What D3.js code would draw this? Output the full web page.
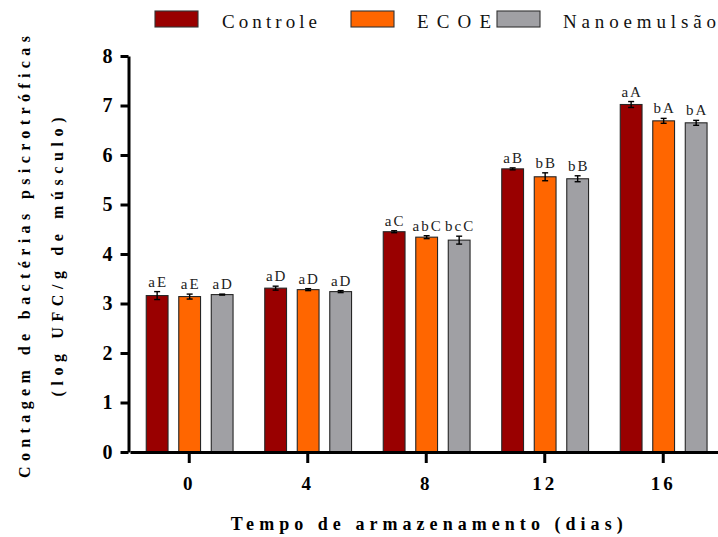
<!DOCTYPE html>
<html>
<head>
<meta charset="utf-8">
<script src="https://cdn.jsdelivr.net/npm/d3@7"></script>
<style>
  html, body { margin: 0; padding: 0; background: #fff; }
  svg { display: block; }
  svg text { font-family: "Times New Roman", "Liberation Serif", Tinos, "DejaVu Serif", serif; }
</style>
</head>
<body>
<svg id="chart" width="718" height="537"></svg>
<script>
// ---- data ----
const days = ["0", "4", "8", "12", "16"];
const seriesNames = ["Controle", "ECOE", "Nanoemulsão"];
const controle = [3.16, 3.31, 4.45, 5.72, 7.02];
const ecoe = [3.14, 3.28, 4.34, 5.56, 6.69];
const nano = [3.18, 3.24, 4.28, 5.52, 6.65];
const controleErr = [0.08, 0.04, 0.02, 0.02, 0.06];
const ecoeErr = [0.05, 0.02, 0.03, 0.08, 0.05];
const nanoErr = [0.01, 0.02, 0.08, 0.06, 0.05];
const controleLbl = ["aE", "aD", "aC", "aB", "aA"];
const ecoeLbl = ["aE", "aD", "abC", "bB", "bA"];
const nanoLbl = ["aD", "aD", "bcC", "bB", "bA"];
const yTicks = [0, 1, 2, 3, 4, 5, 6, 7, 8];

const colors = ["#990000", "#FF6600", "#A0A0A4"];
const values = [controle, ecoe, nano];
const errs = [controleErr, ecoeErr, nanoErr];
const lbls = [controleLbl, ecoeLbl, nanoLbl];

const rows = [];
days.forEach((d, i) => {
  seriesNames.forEach((s, j) => {
    rows.push({ day: d, series: s, j: j, v: values[j][i], e: errs[j][i], lbl: lbls[j][i] });
  });
});

const svg = d3.select("#chart");
const serif = '"Times New Roman", "Liberation Serif", Tinos, "DejaVu Serif", serif';

const x = d3.scaleBand().domain(days).range([130, 722.5]);
const x1 = d3.scaleBand().domain(seriesNames).range([-43, 43.8]).paddingInner(0.33);
const y = d3.scaleLinear().domain([0, 8]).range([452, 56]);

// bars
const g = svg.append("g");
g.selectAll("rect.bar").data(rows).enter().append("rect")
  .attr("class", "bar")
  .attr("x", d => x(d.day) + x.bandwidth() / 2 + x1(d.series))
  .attr("width", x1.bandwidth())
  .attr("y", d => y(d.v))
  .attr("height", d => y(0) - y(d.v))
  .attr("fill", d => colors[d.j])
  .attr("stroke", "#262626")
  .attr("stroke-width", 1.1);

// error bars
const cx = d => x(d.day) + x.bandwidth() / 2 + x1(d.series) + x1.bandwidth() / 2;
const eb = g.selectAll("g.err").data(rows).enter().append("g").attr("class", "err")
  .attr("stroke", "#000").attr("stroke-width", 1.4);
eb.append("line").attr("x1", cx).attr("x2", cx)
  .attr("y1", d => y(d.v + d.e)).attr("y2", d => y(d.v - d.e));
eb.append("line").attr("x1", d => cx(d) - 3).attr("x2", d => cx(d) + 3)
  .attr("y1", d => y(d.v + d.e)).attr("y2", d => y(d.v + d.e));
eb.append("line").attr("x1", d => cx(d) - 3).attr("x2", d => cx(d) + 3)
  .attr("y1", d => y(d.v - d.e)).attr("y2", d => y(d.v - d.e));

// letter labels
g.selectAll("text.lbl").data(rows).enter().append("text")
  .attr("class", "lbl")
  .attr("x", d => cx(d) + 1)
  .attr("y", d => y(d.v + d.e) - 5)
  .attr("text-anchor", "middle")
  .style("font-family", serif)
  .style("font-size", "15px")
  .attr("letter-spacing", 2)
  .attr("fill", "#222")
  .text(d => d.lbl);

// axes
const yAxis = svg.append("g")
  .attr("transform", "translate(128.5,0)")
  .call(d3.axisLeft(y).tickValues(yTicks).tickSize(8).tickSizeOuter(0).tickPadding(8).tickFormat(d3.format("d")));
yAxis.attr("font-family", null);
yAxis.select(".domain").attr("stroke-width", 3).attr("stroke", "#000");
yAxis.selectAll(".tick line").attr("stroke-width", 3).attr("stroke", "#000");
yAxis.selectAll(".tick text")
  .style("font-family", serif).style("font-size", "20px").style("font-weight", "bold").attr("fill", "#000");

const xAxis = svg.append("g")
  .attr("transform", "translate(0,452)")
  .call(d3.axisBottom(x).tickSize(11).tickSizeOuter(0).tickPadding(14));
xAxis.attr("font-family", null);
xAxis.select(".domain").attr("stroke-width", 3).attr("stroke", "#000");
xAxis.selectAll(".tick line").attr("stroke-width", 3).attr("stroke", "#000");
xAxis.selectAll(".tick text")
  .style("font-family", serif).style("font-size", "19px").style("font-weight", "bold")
  .attr("letter-spacing", 3).attr("fill", "#000");

// axis titles
svg.append("text")
  .attr("x", 426.7).attr("y", 530)
  .attr("text-anchor", "middle")
  .style("font-family", serif).style("font-size", "18px").style("font-weight", "bold")
  .attr("textLength", 392).attr("lengthAdjust", "spacing")
  .text("Tempo de armazenamento (dias)");

svg.append("text")
  .attr("transform", "translate(30,257) rotate(-90)")
  .attr("text-anchor", "middle")
  .style("font-family", serif).style("font-size", "16px").style("font-weight", "bold")
  .attr("textLength", 442).attr("lengthAdjust", "spacing")
  .text("Contagem de bactérias psicrotróficas");
svg.append("text")
  .attr("transform", "translate(63,257) rotate(-90)")
  .attr("text-anchor", "middle")
  .style("font-family", serif).style("font-size", "16px").style("font-weight", "bold")
  .attr("textLength", 279).attr("lengthAdjust", "spacing")
  .text("(log UFC/g de músculo)");

// legend
const legendPos = [
  { bx: 155, tx: 222, tl: 95 },
  { bx: 351, tx: 417, tl: 74 },
  { bx: 497, tx: 563, tl: 153 }
];
const leg = svg.append("g");
seriesNames.forEach((s, j) => {
  leg.append("rect")
    .attr("x", legendPos[j].bx).attr("y", 11)
    .attr("width", 43).attr("height", 16)
    .attr("fill", colors[j]).attr("stroke", "#333").attr("stroke-width", 1.1);
  leg.append("text")
    .attr("x", legendPos[j].tx).attr("y", 28)
    .style("font-family", serif).style("font-size", "19px")
    .attr("textLength", legendPos[j].tl).attr("lengthAdjust", "spacing")
    .attr("fill", "#111")
    .text(s);
});
</script>
</body>
</html>
